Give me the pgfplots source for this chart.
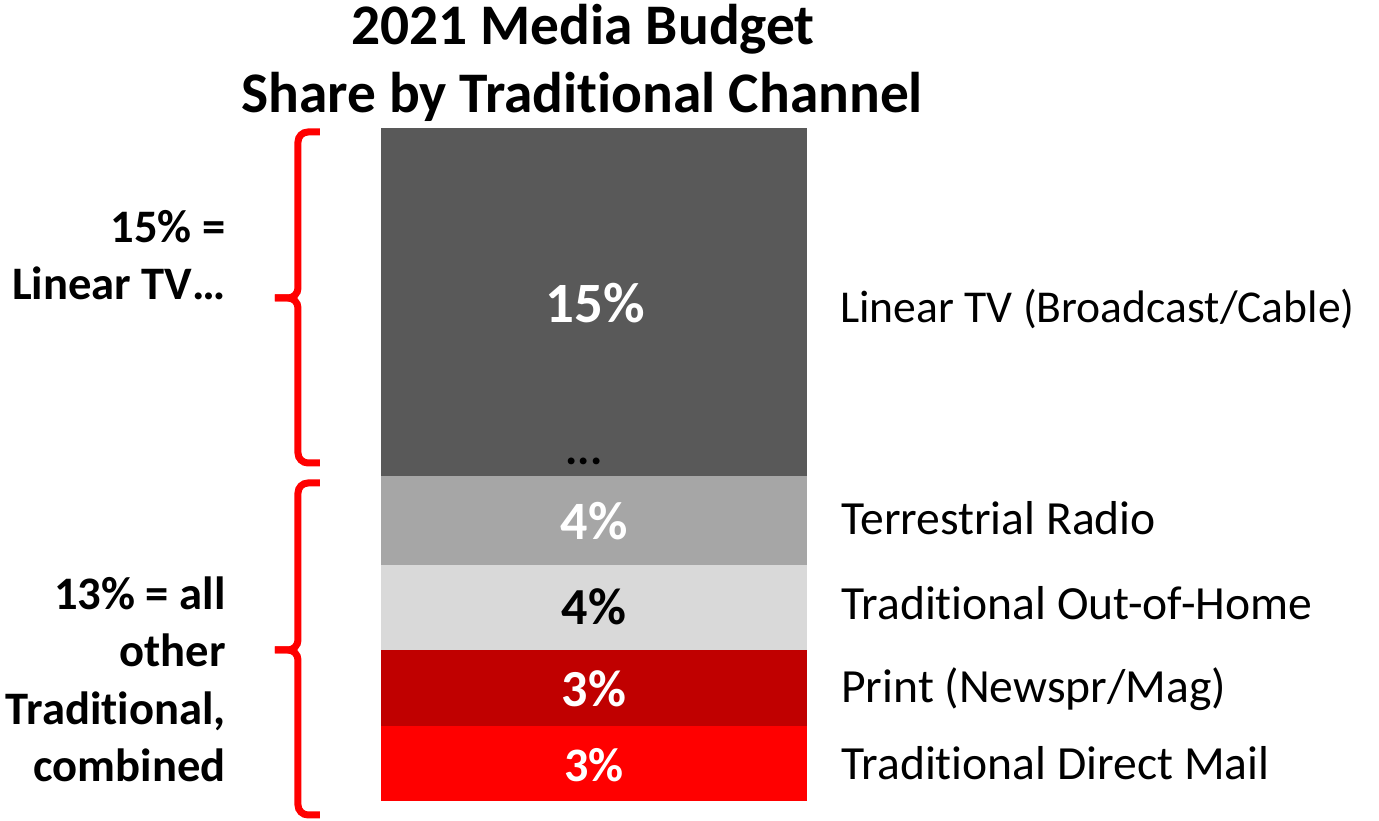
\documentclass[border=0pt]{standalone}
\usepackage{pgfplots}
\pgfplotsset{compat=1.18}
\usepackage{fontspec}
\setmainfont[RawFeature={-liga;-clig;-calt;-dlig}]{Carlito}
\definecolor{tvc}{HTML}{595959}
\definecolor{radioc}{HTML}{A6A6A6}
\definecolor{oohc}{HTML}{D9D9D9}
\definecolor{printc}{HTML}{C00000}
\definecolor{dmc}{HTML}{FF0000}
\begin{document}
\begin{tikzpicture}
\begin{axis}[
  at={(0,0)}, anchor=south west,
  width=689.5bp, height=410.5bp, scale only axis,
  xmin=0, xmax=1379, ymin=-0.862, ymax=34.526,
  hide axis, clip=false,
  ybar stacked, bar width=426,
]
\addplot[fill=dmc, draw=none] coordinates {(594,3.23)};
\addplot[fill=printc, draw=none] coordinates {(594,3.28)};
\addplot[fill=oohc, draw=none] coordinates {(594,3.66)};
\addplot[fill=radioc, draw=none] coordinates {(594,3.84)};
\addplot[fill=tvc, draw=none] coordinates {(594,15.0)};
\end{axis}
\begin{scope}[x=0.5bp, y=-0.5bp, shift={(0,410.5bp)}]
% title
\node[anchor=base, inner sep=0pt, font=\bfseries\fontsize{28.7bp}{34bp}\selectfont] at (583,45) {2021 Media Budget};
\node[anchor=base, inner sep=0pt, font=\bfseries\fontsize{28.7bp}{34bp}\selectfont] at (582,113) {Share by Traditional Channel};
% values
\node[anchor=base, inner sep=0pt, text=white, font=\bfseries\fontsize{28.5bp}{34bp}\selectfont] at (595,323) {15\%};
\node[anchor=base, inner sep=0pt, font=\bfseries\fontsize{23bp}{28bp}\selectfont] at (584,465) {...};
\node[anchor=base, inner sep=0pt, text=white, font=\bfseries\fontsize{27bp}{34bp}\selectfont] at (594,540) {4\%};
\node[anchor=base, inner sep=0pt, text=black, font=\bfseries\fontsize{26bp}{34bp}\selectfont] at (594,625) {4\%};
\node[anchor=base, inner sep=0pt, text=white, font=\bfseries\fontsize{26bp}{34bp}\selectfont] at (594,707) {3\%};
\node[anchor=base, inner sep=0pt, text=white, font=\bfseries\fontsize{24bp}{34bp}\selectfont] at (594,782) {3\%};
% right labels
\begin{scope}[every node/.style={anchor=base west, inner sep=0pt, font=\fontsize{23.8bp}{27bp}\selectfont}]
\node[font=\fontsize{22.8bp}{27bp}\selectfont] at (840,323) {Linear TV (Broadcast/Cable)};
\node at (841,535) {Terrestrial Radio};
\node at (841,620) {Traditional Out-of-Home};
\node at (841,703) {Print (Newspr/Mag)};
\node at (841,780) {Traditional Direct Mail};
\end{scope}
% left labels
\begin{scope}[every node/.style={anchor=base east, inner sep=0pt, font=\bfseries\fontsize{23.3bp}{27bp}\selectfont}]
\node at (226,243) {15\% =};
\node at (226,300) {Linear TV…};
\node at (226,610) {13\% = all};
\node at (226,667) {other};
\node at (226,725) {Traditional,};
\node at (226,782) {combined};
\end{scope}
% braces
\begin{scope}[draw=dmc, line width=3.5bp, rounded corners=5bp]
\draw (320,132) -- (298,132) -- (298,298) -- (275,298);
\draw (320,463) -- (298,463) -- (298,298) -- (275,298);
\draw (320,483) -- (298,483) -- (298,650) -- (275,650);
\draw (320,815) -- (298,815) -- (298,650) -- (275,650);
\end{scope}
\end{scope}
\pgfresetboundingbox
\path (0,0) rectangle (689.5bp,410.5bp);
\end{tikzpicture}
\end{document}
